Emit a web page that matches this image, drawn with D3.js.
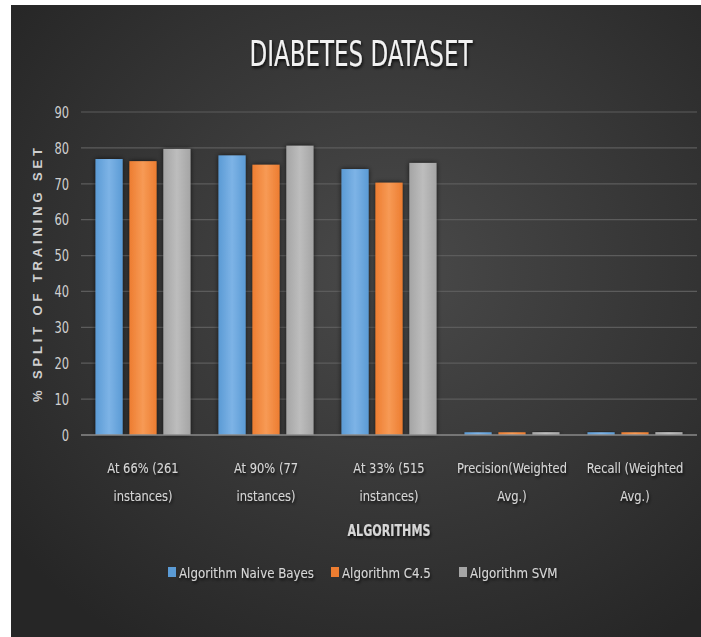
<!DOCTYPE html>
<html>
<head>
<meta charset="utf-8">
<script src="https://cdn.jsdelivr.net/npm/d3@7"></script>
<style>
  html, body { margin: 0; padding: 0; background: #ffffff; }
  svg { display: block; }
</style>
</head>
<body>
<svg id="chart" width="701" height="637"></svg>
<script>
const categories = [
  "At 66% (261 instances)",
  "At 90% (77 instances)",
  "At 33% (515 instances)",
  "Precision(Weighted Avg.)",
  "Recall (Weighted Avg.)"
];
const categoryLines = [
  ["At 66% (261", "instances)"],
  ["At 90% (77", "instances)"],
  ["At 33% (515", "instances)"],
  ["Precision(Weighted", "Avg.)"],
  ["Recall (Weighted", "Avg.)"]
];
const seriesNames = ["Algorithm Naive Bayes", "Algorithm C4.5", "Algorithm SVM"];
const naiveBayes = [76.9, 77.9, 74.1, 0.76, 0.77];
const c45 = [76.3, 75.3, 70.3, 0.76, 0.76];
const svm = [79.7, 80.6, 75.8, 0.79, 0.80];
const yTicks = [0, 10, 20, 30, 40, 50, 60, 70, 80, 90];
const seriesColors = ["#5B9BD5", "#ED7D31", "#A5A5A5"];
const seriesLight = ["#7db3e6", "#f79a55", "#bdbdbd"];

const values = [naiveBayes, c45, svm];
const FONT = "'Liberation Sans Narrow', 'DejaVu Sans Condensed', 'Arial Narrow', sans-serif";

const svg = d3.select("#chart");
const defs = svg.append("defs");

// squeeze a text horizontally to imitate a narrow font
function squeeze(sel, k) {
  sel.each(function () {
    const w = this.getComputedTextLength();
    d3.select(this).attr("textLength", w * k).attr("lengthAdjust", "spacingAndGlyphs");
  });
  return sel;
}

// background gradient
const bg = defs.append("radialGradient").attr("id", "bg")
  .attr("cx", "55%").attr("cy", "42%").attr("r", "70%");
bg.append("stop").attr("offset", "0%").attr("stop-color", "#4a4a4a");
bg.append("stop").attr("offset", "100%").attr("stop-color", "#262626");

seriesColors.forEach((c, i) => {
  const g = defs.append("linearGradient").attr("id", "bar" + i)
    .attr("x1", "0%").attr("x2", "100%").attr("y1", "0%").attr("y2", "0%");
  g.append("stop").attr("offset", "0%").attr("stop-color", c);
  g.append("stop").attr("offset", "50%").attr("stop-color", seriesLight[i]);
  g.append("stop").attr("offset", "100%").attr("stop-color", c);
});

const shadow = defs.append("filter").attr("id", "shadow")
  .attr("x", "-40%").attr("y", "-10%").attr("width", "180%").attr("height", "120%");
shadow.append("feGaussianBlur").attr("in", "SourceAlpha").attr("stdDeviation", 2.5).attr("result", "b");
shadow.append("feFlood").attr("flood-color", "#000").attr("flood-opacity", 0.7);
shadow.append("feComposite").attr("in2", "b").attr("operator", "in").attr("result", "s");
const m = shadow.append("feMerge");
m.append("feMergeNode").attr("in", "s");
m.append("feMergeNode").attr("in", "SourceGraphic");

const tshadow = defs.append("filter").attr("id", "tshadow")
  .attr("x", "-10%").attr("y", "-30%").attr("width", "120%").attr("height", "160%");
tshadow.append("feGaussianBlur").attr("in", "SourceAlpha").attr("stdDeviation", 1.5).attr("result", "b");
tshadow.append("feOffset").attr("dx", 1).attr("dy", 2).attr("result", "o");
tshadow.append("feFlood").attr("flood-color", "#000").attr("flood-opacity", 0.8);
tshadow.append("feComposite").attr("in2", "o").attr("operator", "in").attr("result", "s");
const tm = tshadow.append("feMerge");
tm.append("feMergeNode").attr("in", "s");
tm.append("feMergeNode").attr("in", "SourceGraphic");

// background (white strip at left/top like the source image)
svg.append("rect").attr("x", 11).attr("y", 5).attr("width", 690).attr("height", 632)
  .attr("fill", "url(#bg)");

const x0 = d3.scaleBand().domain(categories).range([81.5, 696.5]).paddingInner(0).paddingOuter(0);
const x1 = d3.scaleBand().domain(seriesNames).range([14, x0.bandwidth() - 14]).paddingInner(0.2);
const y = d3.scaleLinear().domain([0, 90]).range([435, 112]);

// gridlines
svg.append("g").selectAll("line").data(yTicks.filter(d => d > 0)).join("line")
  .attr("x1", 81).attr("x2", 697)
  .attr("y1", d => y(d)).attr("y2", d => y(d))
  .attr("stroke", "#5c5c5c").attr("stroke-width", 1.2);

// y axis labels
const yAxis = d3.axisLeft(y).tickValues(yTicks).tickSize(0).tickPadding(0);
const yg = svg.append("g").attr("transform", "translate(69,0)").call(yAxis);
yg.select(".domain").remove();
yg.selectAll("text").attr("font-family", FONT).attr("font-size", 15)
  .attr("fill", "#d0d0d0").attr("dy", "0.35em");
squeeze(yg.selectAll("text"), 0.85);

// bars
const groups = svg.append("g").selectAll("g").data(categories).join("g")
  .attr("transform", d => `translate(${x0(d)},0)`);
groups.selectAll("rect").data((d, ci) => seriesNames.map((s, si) => ({ s, si, v: values[si][ci] })))
  .join("rect")
  .attr("x", d => x1(d.s))
  .attr("width", x1.bandwidth())
  .attr("y", d => y(d.v))
  .attr("height", d => y(0) - y(d.v))
  .attr("fill", d => `url(#bar${d.si})`)
  .attr("filter", "url(#shadow)");

// baseline
svg.append("line").attr("x1", 81).attr("x2", 697).attr("y1", y(0)).attr("y2", y(0))
  .attr("stroke", "#8a8a8a").attr("stroke-width", 1.5);

// category labels
const lab = svg.append("g");
categories.forEach((c, i) => {
  const cx = x0(c) + x0.bandwidth() / 2;
  categoryLines[i].forEach((line, li) => {
    const t = lab.append("text").attr("x", cx).attr("y", 468 + li * 28)
      .attr("text-anchor", "middle").attr("dy", "0.35em")
      .attr("font-family", FONT).attr("font-size", 14.5).attr("fill", "#d6d6d6")
      .attr("filter", "url(#tshadow)")
      .text(line);
    squeeze(t, 0.88);
  });
});

// axis titles
svg.append("text").attr("x", 389).attr("y", 531).attr("text-anchor", "middle").attr("dy", "0.35em")
  .attr("font-family", FONT).attr("font-size", 15).attr("font-weight", "bold").attr("fill", "#d6d6d6")
  .attr("filter", "url(#tshadow)")
  .attr("textLength", 83).attr("lengthAdjust", "spacingAndGlyphs")
  .text("ALGORITHMS");

svg.append("text")
  .attr("transform", "translate(37,275) rotate(-90)")
  .attr("text-anchor", "middle").attr("dy", "0.35em")
  .attr("font-family", "'Liberation Sans', 'DejaVu Sans', sans-serif")
  .attr("font-size", 13).attr("font-weight", "bold").attr("fill", "#cfcfcf")
  .attr("textLength", 254).attr("lengthAdjust", "spacing")
  .text("% SPLIT OF TRAINING SET");

// title
svg.append("text").attr("x", 361).attr("y", 54).attr("text-anchor", "middle").attr("dy", "0.35em")
  .attr("font-family", FONT).attr("font-size", 35).attr("fill", "#f2f2f2")
  .attr("textLength", 223).attr("lengthAdjust", "spacingAndGlyphs")
  .attr("filter", "url(#tshadow)")
  .text("DIABETES  DATASET");

// legend
const legendX = [168, 331, 459];
const lg = svg.append("g");
seriesNames.forEach((s, i) => {
  lg.append("rect").attr("x", legendX[i]).attr("y", 567).attr("width", 8).attr("height", 10)
    .attr("fill", seriesColors[i]);
  const t = lg.append("text").attr("x", legendX[i] + 11).attr("y", 573).attr("dy", "0.35em")
    .attr("font-family", FONT).attr("font-size", 14).attr("fill", "#d6d6d6")
    .attr("filter", "url(#tshadow)")
    .text(s);
  squeeze(t, 0.94);
});
</script>
</body>
</html>
